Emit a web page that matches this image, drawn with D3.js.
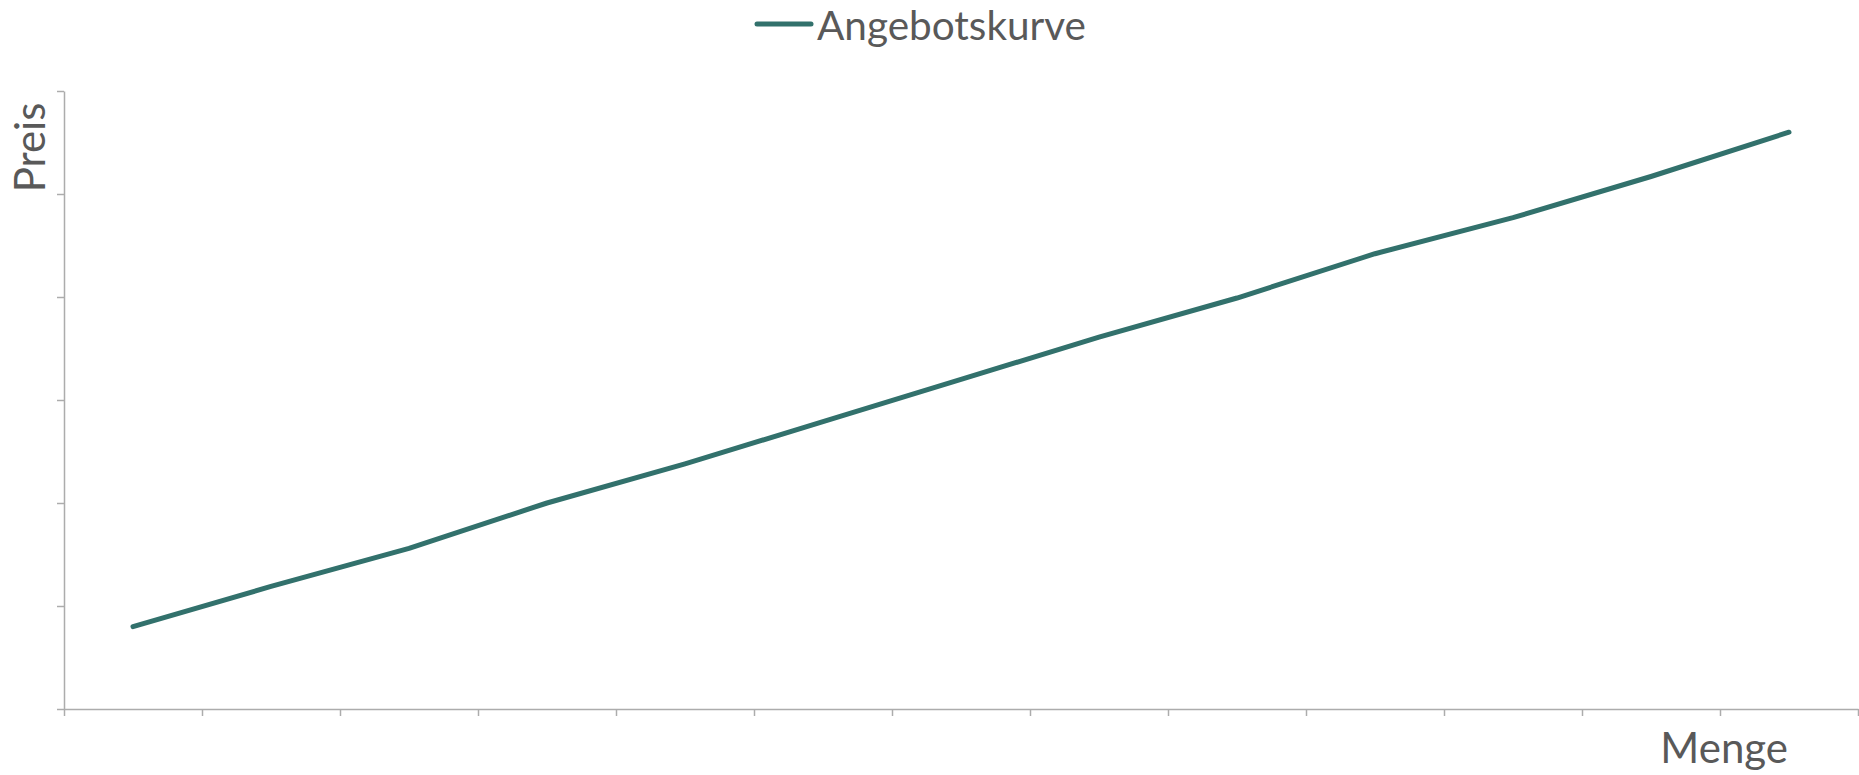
<!DOCTYPE html>
<html>
<head>
<meta charset="utf-8">
<script src="https://cdn.jsdelivr.net/npm/d3@7"></script>
<style>
  html, body { margin: 0; padding: 0; background: #ffffff; }
  svg { display: block; }
  text { font-family: Lato, "Open Sans", sans-serif; fill: #595959; }
</style>
</head>
<body>
<svg id="chart" width="1859" height="775"></svg>
<script>
// ---- data ----
const categories = ["1","2","3","4","5","6","7","8","9","10","11","12","13"];
const seriesName = "Angebotskurve";
const supplyValues = [8, 11.9, 15.6, 20, 23.8, 27.9, 32, 36.1, 39.9, 44.2, 47.7, 51.7, 56];
const yTickValues = [0, 10, 20, 30, 40, 50, 60];
const xTitle = "Menge";
const yTitle = "Preis";

// ---- layout ----
const plot = { left: 64, right: 1858, top: 91, bottom: 709 };
const lineColor = "#32716c";
const axisColor = "#acacac";
const fontSize = 42;

const svg = d3.select("#chart");

const x = d3.scaleLinear().domain([0, categories.length]).range([plot.left, plot.right]);
const y = d3.scaleLinear().domain([0, 60]).range([plot.bottom, plot.top]);

// y axis
const yAxis = svg.append("g")
  .attr("transform", `translate(${plot.left},0)`)
  .call(d3.axisLeft(y).tickValues(yTickValues).tickFormat("").tickSize(7).tickSizeOuter(0));
yAxis.select(".domain").attr("stroke", axisColor).attr("stroke-width", 1.5);
yAxis.selectAll(".tick line").attr("stroke", axisColor).attr("stroke-width", 1.5);

// x axis
const xAxis = svg.append("g")
  .attr("transform", `translate(0,${plot.bottom})`)
  .call(d3.axisBottom(x).tickValues(d3.range(0, categories.length + 1)).tickFormat("").tickSize(7).tickSizeOuter(0));
xAxis.select(".domain").attr("stroke", axisColor).attr("stroke-width", 1.5);
xAxis.selectAll(".tick line").attr("stroke", axisColor).attr("stroke-width", 1.5);

// line
const line = d3.line()
  .x((d, i) => x(i + 0.5))
  .y(d => y(d));
svg.append("path")
  .datum(supplyValues)
  .attr("d", line)
  .attr("fill", "none")
  .attr("stroke", lineColor)
  .attr("stroke-width", 5)
  .attr("stroke-linecap", "round")
  .attr("stroke-linejoin", "round");

// legend
const lg = svg.append("g");
lg.append("line")
  .attr("x1", 757).attr("x2", 811).attr("y1", 24).attr("y2", 24)
  .attr("stroke", lineColor).attr("stroke-width", 5).attr("stroke-linecap", "round");
lg.append("text")
  .attr("x", 817).attr("y", 40)
  .attr("font-size", 40.5)
  .text(seriesName);

// axis titles
svg.append("text")
  .attr("x", 1788).attr("y", 763)
  .attr("text-anchor", "end")
  .attr("font-size", fontSize)
  .text(xTitle);

svg.append("text")
  .attr("transform", "translate(45,147.5) rotate(-90)")
  .attr("text-anchor", "middle")
  .attr("font-size", fontSize)
  .text(yTitle);
</script>
</body>
</html>
